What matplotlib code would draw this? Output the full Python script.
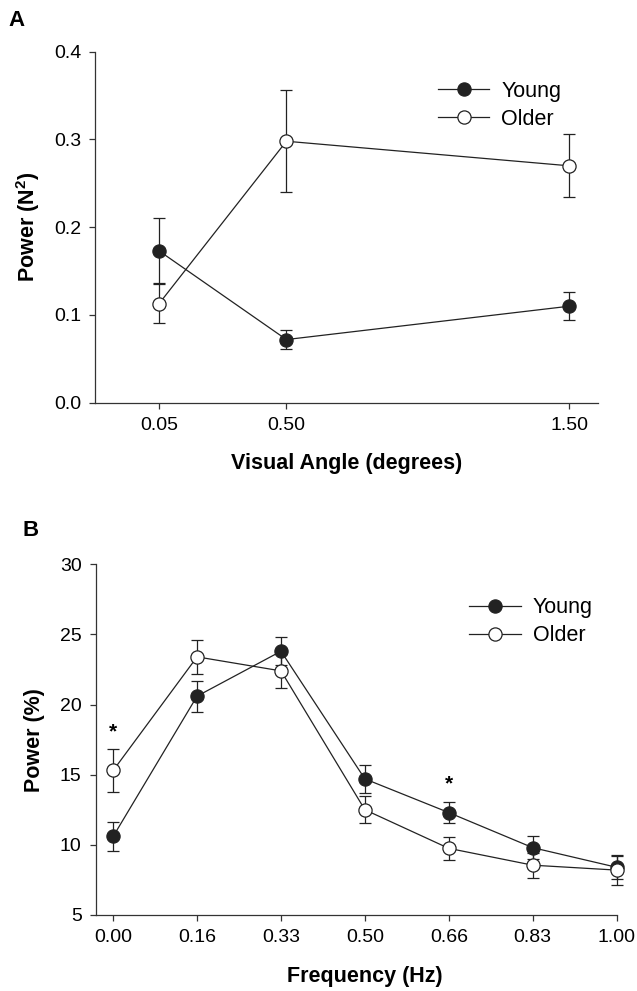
import numpy as np
import matplotlib.pyplot as plt
from matplotlib.lines import Line2D

plt.rcParams['font.family'] = ['Liberation Sans', 'DejaVu Sans']
plt.rcParams['mathtext.fontset'] = 'custom'
plt.rcParams['mathtext.bf'] = 'Liberation Sans:bold'

# panel A: power by visual angle
angles = [0.05, 0.50, 1.50]
angle_labels = ["0.05", "0.50", "1.50"]
young_a = [0.173, 0.072, 0.110]
young_a_err = [0.037, 0.011, 0.016]
older_a = [0.113, 0.298, 0.270]
older_a_err = [0.022, 0.058, 0.036]

# panel B: power spectrum by frequency
freqs = [0, 1/6, 2/6, 3/6, 4/6, 5/6, 1.0]
freq_labels = ["0.00", "0.16", "0.33", "0.50", "0.66", "0.83", "1.00"]
young_b = [10.6, 20.6, 23.8, 14.7, 12.3, 9.8, 8.4]
young_b_err = [1.05, 1.1, 1.0, 1.0, 0.75, 0.8, 0.8]
older_b = [15.3, 23.4, 22.4, 12.5, 9.75, 8.55, 8.2]
older_b_err = [1.5, 1.2, 1.2, 0.95, 0.82, 0.9, 1.05]
signif = [0, 4]  # indices marked with *

LC = '#222222'
MS = 9.5


def draw_series(ax, x, y, err, filled):
    ax.errorbar(x, y, yerr=err, fmt='-o', color=LC, lw=0.9, elinewidth=0.9,
                capsize=4.6, capthick=0.9, markersize=MS,
                markerfacecolor=LC if filled else 'white',
                markeredgecolor=LC, markeredgewidth=0.9,
                zorder=3 if filled else 4, clip_on=False)


def add_legend(ax, x, y):
    handles = [Line2D([], [], color=LC, lw=0.9, marker='o', markersize=MS,
                      markerfacecolor=fc, markeredgecolor=LC, markeredgewidth=0.9)
               for fc in (LC, 'white')]
    ax.legend(handles, ['Young', 'Older'], loc='center left', bbox_to_anchor=(x, y),
              frameon=False, fontsize=15.5, handlelength=2.4, handletextpad=0.55,
              labelspacing=0.32, borderpad=0, borderaxespad=0)


def style_axes(ax):
    for s in ['top', 'right']:
        ax.spines[s].set_visible(False)
    for s in ['left', 'bottom']:
        ax.spines[s].set_linewidth(0.9)
        ax.spines[s].set_color('#333333')
    ax.tick_params(direction='out', length=4, width=0.9, color='#333333',
                   labelsize=14, pad=6)


fig = plt.figure(figsize=(6.37, 9.91), dpi=100)

axA = fig.add_axes([0.149, 0.5936, 0.789, 0.3542])
draw_series(axA, angles, young_a, young_a_err, True)
draw_series(axA, angles, older_a, older_a_err, False)
axA.set_xlim(-0.177, 1.6)
axA.set_ylim(0, 0.4)
axA.set_xticks(angles)
axA.set_xticklabels(angle_labels)
axA.set_yticks(np.arange(0, 0.41, 0.1))
axA.set_yticklabels(["0.0", "0.1", "0.2", "0.3", "0.4"])
style_axes(axA)
axA.set_xlabel('Visual Angle (degrees)', fontsize=15.5, fontweight='bold', va='center')
axA.xaxis.set_label_coords(0.5, -0.172)
axA.set_ylabel(r'Power (N$^{\mathbf{2}}$)', fontsize=15.5, fontweight='bold', va='center')
axA.yaxis.set_label_coords(-0.133, 0.5)
add_legend(axA, 0.682, 0.848)

axB = fig.add_axes([0.150, 0.0767, 0.818, 0.3539])
draw_series(axB, freqs, young_b, young_b_err, True)
draw_series(axB, freqs, older_b, older_b_err, False)
axB.set_xlim(-0.035, 1.0)
axB.set_ylim(5, 30)
axB.set_xticks(freqs)
axB.set_xticklabels(freq_labels)
axB.set_yticks(np.arange(5, 31, 5))
style_axes(axB)
axB.set_xlabel('Frequency (Hz)', fontsize=15.5, fontweight='bold', va='center')
axB.xaxis.set_label_coords(0.517, -0.176)
axB.set_ylabel('Power (%)', fontsize=15.5, fontweight='bold', va='center')
axB.yaxis.set_label_coords(-0.117, 0.5)
add_legend(axB, 0.7176, 0.836)

for i in signif:
    top = max(young_b[i] + young_b_err[i], older_b[i] + older_b_err[i])
    axB.text(freqs[i], top + 0.6, '*', ha='center', va='bottom',
             fontsize=15, fontweight='bold')

fig.text(16.5 / 637, 1 - 20 / 991, 'A', fontsize=16, fontweight='bold', ha='center', va='center')
fig.text(30.5 / 637, 1 - 530 / 991, 'B', fontsize=16, fontweight='bold', ha='center', va='center')

fig.savefig('out.png', dpi=100, facecolor='white')
